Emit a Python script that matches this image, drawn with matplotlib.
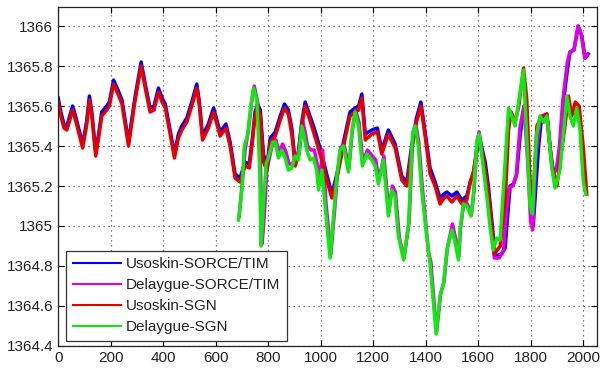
import matplotlib
matplotlib.use("Agg")
import matplotlib.pyplot as plt
from matplotlib.ticker import FuncFormatter

plt.rcParams['font.family'] = ['Liberation Sans', 'DejaVu Sans']

# Usoskin-SGN reconstruction
red_x = [0, 10, 22, 33, 55, 68, 93, 108, 119, 128, 143, 155, 166, 185, 195, 211, 228, 243,
         268, 292, 316, 333, 350, 365, 382, 396, 408, 425, 443, 458, 471, 490, 509, 528,
         538, 550, 572, 592, 617, 639, 655, 674, 693, 712, 728, 740, 750, 760, 770, 782,
         795, 808, 827, 846, 862, 877, 890, 903, 915, 928, 941, 954, 973, 998, 1023, 1043,
         1062, 1087, 1112, 1131, 1145, 1157, 1170, 1195, 1216, 1233, 1258, 1284, 1309, 1328,
         1347, 1365, 1382, 1398, 1417, 1436, 1455, 1470, 1481, 1500, 1519, 1538, 1557, 1570,
         1582, 1601, 1620, 1639, 1662, 1684, 1703, 1716, 1726, 1741, 1755, 1773, 1785, 1798,
         1807, 1824, 1842, 1862, 1881, 1900, 1912, 1931, 1944, 1957, 1970, 1985, 2001, 2014]
red_y = [1365.62, 1365.55, 1365.49, 1365.48, 1365.58, 1365.52, 1365.39, 1365.50, 1365.63,
         1365.55, 1365.35, 1365.45, 1365.55, 1365.58, 1365.60, 1365.71, 1365.66, 1365.61,
         1365.40, 1365.62, 1365.80, 1365.68, 1365.57, 1365.58, 1365.67, 1365.62, 1365.59,
         1365.47, 1365.34, 1365.44, 1365.48, 1365.52, 1365.60, 1365.69, 1365.60, 1365.43,
         1365.49, 1365.57, 1365.45, 1365.49, 1365.40, 1365.24, 1365.22, 1365.30, 1365.29,
         1365.42, 1365.55, 1365.60, 1365.55, 1365.32, 1365.28, 1365.42, 1365.45, 1365.53,
         1365.59, 1365.56, 1365.46, 1365.30, 1365.35, 1365.50, 1365.60, 1365.55, 1365.47,
         1365.36, 1365.23, 1365.14, 1365.24, 1365.40, 1365.55, 1365.57, 1365.58, 1365.64,
         1365.43, 1365.46, 1365.47, 1365.36, 1365.46, 1365.39, 1365.23, 1365.20, 1365.38,
         1365.52, 1365.60, 1365.45, 1365.26, 1365.20, 1365.11, 1365.14, 1365.15, 1365.12,
         1365.15, 1365.11, 1365.13, 1365.22, 1365.27, 1365.44, 1365.34, 1365.17, 1364.86,
         1364.90, 1365.12, 1365.48, 1365.57, 1365.52, 1365.60, 1365.79, 1365.64, 1365.22,
         1365.08, 1365.50, 1365.55, 1365.56, 1365.30, 1365.20, 1365.32, 1365.50, 1365.65,
         1365.55, 1365.62, 1365.60, 1365.39, 1365.16]

# Usoskin-SORCE/TIM reconstruction
blue_x = [0, 10, 22, 33, 55, 68, 93, 108, 119, 128, 143, 155, 166, 185, 195, 211, 228, 243,
          268, 292, 316, 333, 350, 365, 382, 396, 408, 425, 443, 458, 471, 490, 509, 528,
          538, 550, 572, 592, 617, 639, 655, 674, 693, 712, 728, 740, 750, 760, 770, 782,
          795, 808, 827, 846, 862, 877, 890, 903, 915, 928, 941, 954, 973, 998, 1023, 1043,
          1062, 1087, 1112, 1131, 1145, 1157, 1170, 1195, 1216, 1233, 1258, 1284, 1309, 1328,
          1347, 1365, 1382, 1398, 1417, 1436, 1455, 1470, 1481, 1500, 1519, 1538, 1557, 1570,
          1582, 1604, 1627, 1639, 1655, 1665, 1690, 1703, 1713, 1722, 1735, 1747, 1760, 1775,
          1788, 1800, 1810, 1830, 1840, 1862, 1874, 1887, 1900, 1912, 1925, 1942, 1950, 1965,
          1982, 1995, 2008, 2020]
blue_y = [1365.64, 1365.57, 1365.51, 1365.50, 1365.60, 1365.54, 1365.41, 1365.52, 1365.65,
          1365.57, 1365.37, 1365.47, 1365.57, 1365.60, 1365.62, 1365.73, 1365.68, 1365.63,
          1365.42, 1365.64, 1365.82, 1365.70, 1365.59, 1365.60, 1365.69, 1365.64, 1365.61,
          1365.49, 1365.36, 1365.46, 1365.50, 1365.54, 1365.62, 1365.71, 1365.62, 1365.45,
          1365.51, 1365.59, 1365.47, 1365.51, 1365.42, 1365.26, 1365.24, 1365.32, 1365.31,
          1365.44, 1365.57, 1365.61, 1365.58, 1365.36, 1365.30, 1365.44, 1365.47, 1365.55,
          1365.61, 1365.58, 1365.49, 1365.32, 1365.37, 1365.52, 1365.62, 1365.57, 1365.50,
          1365.39, 1365.26, 1365.16, 1365.26, 1365.42, 1365.57, 1365.59, 1365.60, 1365.66,
          1365.46, 1365.48, 1365.49, 1365.38, 1365.48, 1365.41, 1365.25, 1365.22, 1365.40,
          1365.54, 1365.62, 1365.47, 1365.29, 1365.22, 1365.14, 1365.16, 1365.17, 1365.15,
          1365.17, 1365.13, 1365.15, 1365.22, 1365.26, 1365.45, 1365.32, 1365.20, 1364.99,
          1364.85, 1364.86, 1364.89, 1365.06, 1365.20, 1365.21, 1365.26, 1365.45, 1365.60,
          1365.45, 1365.10, 1365.00, 1365.39, 1365.52, 1365.56, 1365.39, 1365.27, 1365.29,
          1365.39, 1365.62, 1365.80, 1365.87, 1365.88, 1366.00, 1365.95, 1365.84, 1365.86]

# Delaygue-SGN reconstruction
green_x = [687, 700, 709, 721, 734, 744, 757, 767, 773, 782, 792, 805, 817, 827, 839, 852,
           865, 877, 890, 903, 915, 928, 938, 947, 960, 973, 985, 992, 1005, 1017, 1036, 1049,
           1062, 1074, 1087, 1106, 1119, 1131, 1144, 1159, 1176, 1195, 1208, 1220, 1239, 1258,
           1271, 1283, 1296, 1316, 1335, 1350, 1360, 1372, 1385, 1404, 1417, 1430, 1440, 1455,
           1468, 1481, 1500, 1512, 1525, 1531, 1544, 1557, 1573, 1582, 1595, 1604, 1620, 1633,
           1646, 1658, 1671, 1684, 1700, 1716, 1728, 1741, 1760, 1773, 1785, 1798, 1807, 1822,
           1836, 1850, 1862, 1881, 1893, 1912, 1938, 1950, 1963, 1976, 1988, 2001, 2010]
green_y = [1365.03, 1365.18, 1365.40, 1365.45, 1365.60, 1365.69, 1365.63, 1365.31, 1364.90,
           1365.11, 1365.31, 1365.36, 1365.42, 1365.42, 1365.34, 1365.38, 1365.34, 1365.28,
           1365.29, 1365.35, 1365.33, 1365.50, 1365.44, 1365.38, 1365.33, 1365.34, 1365.28,
           1365.18, 1365.28, 1365.10, 1364.84, 1365.05, 1365.25, 1365.38, 1365.40, 1365.27,
           1365.47, 1365.57, 1365.50, 1365.30, 1365.36, 1365.33, 1365.30, 1365.21, 1365.33,
           1365.05, 1365.18, 1365.15, 1364.95, 1364.83, 1365.01, 1365.46, 1365.50, 1365.40,
           1365.18, 1364.95, 1364.81, 1364.61, 1364.46, 1364.65, 1364.71, 1364.88, 1364.98,
           1364.92, 1364.83, 1364.98, 1365.11, 1365.10, 1365.05, 1365.16, 1365.42, 1365.46,
           1365.29, 1365.15, 1364.99, 1364.88, 1364.94, 1364.93, 1365.26, 1365.59, 1365.55,
           1365.50, 1365.67, 1365.78, 1365.45, 1365.10, 1365.06, 1365.45, 1365.55, 1365.52,
           1365.55, 1365.29, 1365.19, 1365.28, 1365.65, 1365.55, 1365.50, 1365.59, 1365.48,
           1365.22, 1365.16]

# Delaygue-SORCE/TIM reconstruction
magenta_x = [690, 700, 712, 725, 737, 747, 760, 770, 777, 785, 795, 808, 820, 830, 842, 855,
             868, 880, 893, 906, 918, 931, 941, 950, 963, 976, 988, 995, 1008, 1020, 1039, 1052,
             1064, 1076, 1089, 1108, 1121, 1133, 1146, 1161, 1178, 1197, 1210, 1222, 1241, 1260,
             1273, 1285, 1300, 1318, 1337, 1352, 1362, 1374, 1387, 1411, 1420, 1432, 1442, 1457,
             1470, 1483, 1502, 1514, 1527, 1533, 1546, 1559, 1575, 1584, 1597, 1604, 1620, 1639,
             1652, 1662, 1680, 1697, 1710, 1718, 1732, 1745, 1760, 1775, 1790, 1800, 1808, 1820,
             1836, 1850, 1862, 1874, 1885, 1898, 1910, 1922, 1940, 1950, 1965, 1980, 1993, 2006,
             2018]
magenta_y = [1365.05, 1365.20, 1365.38, 1365.48, 1365.62, 1365.70, 1365.62, 1365.35, 1364.91,
             1365.05, 1365.28, 1365.36, 1365.43, 1365.43, 1365.36, 1365.41, 1365.37, 1365.31,
             1365.31, 1365.36, 1365.36, 1365.53, 1365.47, 1365.40, 1365.38, 1365.38, 1365.30,
             1365.22, 1365.38, 1365.12, 1364.86, 1365.06, 1365.26, 1365.39, 1365.41, 1365.29,
             1365.48, 1365.58, 1365.52, 1365.32, 1365.38, 1365.35, 1365.33, 1365.23, 1365.35,
             1365.07, 1365.20, 1365.17, 1364.94, 1364.84, 1365.02, 1365.47, 1365.51, 1365.42,
             1365.20, 1364.87, 1364.82, 1364.62, 1364.47, 1364.66, 1364.72, 1364.89, 1365.01,
             1364.94, 1364.85, 1364.99, 1365.12, 1365.11, 1365.06, 1365.17, 1365.43, 1365.47,
             1365.32, 1365.15, 1364.95, 1364.84, 1364.84, 1364.88, 1365.10, 1365.19, 1365.20,
             1365.25, 1365.50, 1365.60, 1365.30, 1365.02, 1364.98, 1365.35, 1365.53, 1365.52,
             1365.55, 1365.40, 1365.26, 1365.28, 1365.40, 1365.62, 1365.82, 1365.87, 1365.88,
             1366.00, 1365.96, 1365.84, 1365.86]

x_ticks = [0, 200, 400, 600, 800, 1000, 1200, 1400, 1600, 1800, 2000]
y_ticks = [1364.4, 1364.6, 1364.8, 1365.0, 1365.2, 1365.4, 1365.6, 1365.8, 1366.0]

fig = plt.figure(figsize=(6, 3.72), dpi=100)
ax = fig.add_axes([0.097, 0.07, 0.898, 0.911])

lw = 2.5
ax.plot(blue_x, blue_y, color='#0000ff', lw=lw, label='Usoskin-SORCE/TIM')
ax.plot(magenta_x, magenta_y, color='#e000e0', lw=lw, label='Delaygue-SORCE/TIM')
ax.plot(red_x, red_y, color='#e80000', lw=lw, label='Usoskin-SGN')
ax.plot(green_x, green_y, color='#10e810', lw=lw, label='Delaygue-SGN')

ax.set_xlim(0, 2053)
ax.set_ylim(1364.4, 1366.095)
ax.set_xticks(x_ticks)
ax.set_yticks(y_ticks)
ax.yaxis.set_major_formatter(FuncFormatter(lambda v, p: f'{v:g}'))
ax.tick_params(direction='in', top=True, right=True, labelsize=11,
               labelcolor='#222222', length=4, width=0.8)
ax.grid(True, color='#555555', linestyle=(0, (1, 3)), linewidth=0.9)
for s in ax.spines.values():
    s.set_linewidth(0.9)
    s.set_color('#222222')

leg = ax.legend(loc='lower left', bbox_to_anchor=(0.015, 0.015), fontsize=11,
                handlelength=3.1, handletextpad=0.35, labelspacing=0.45,
                borderpad=0.45, fancybox=False, framealpha=1, edgecolor='#333333',
                borderaxespad=0)
leg.get_frame().set_linewidth(0.9)
for h in leg.get_lines():
    h.set_linewidth(1.5)
for t in leg.get_texts():
    t.set_color('#222222')

fig.savefig('out.png', dpi=100)
